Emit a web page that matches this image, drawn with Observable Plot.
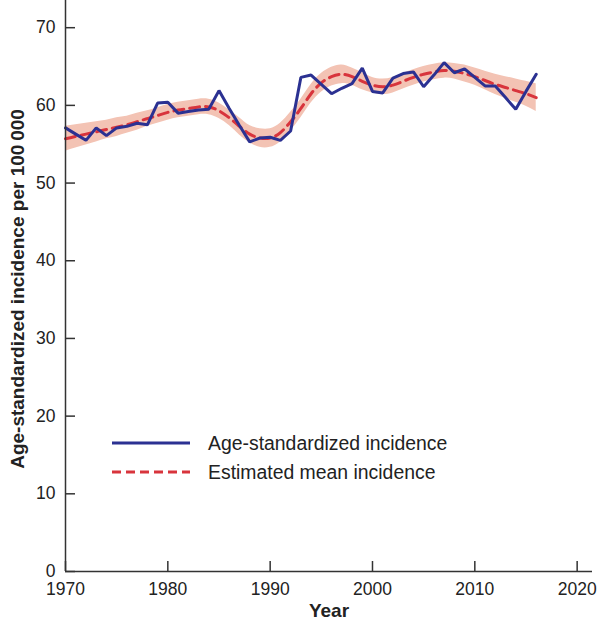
<!DOCTYPE html>
<html>
<head>
<meta charset="utf-8">
<script src="https://cdn.jsdelivr.net/npm/d3@7"></script>
<script src="https://cdn.jsdelivr.net/npm/@observablehq/plot@0.6"></script>
<style>
  html, body { margin: 0; padding: 0; background: #fff; }
  #chart svg { display: block; }
</style>
</head>
<body>
<div id="chart"></div>
<script>
const years = d3.range(1970, 2017);
const observed = [57.1, 56.3, 55.5, 57.1, 56.1, 57.1, 57.3, 57.7, 57.5, 60.3,
  60.4, 59.0, 59.2, 59.4, 59.5, 61.9, 59.6, 57.4, 55.3, 55.8,
  55.9, 55.5, 56.7, 63.6, 63.9, 62.7, 61.5, 62.2, 62.8, 64.8,
  61.8, 61.6, 63.5, 64.1, 64.3, 62.4, 63.9, 65.5, 64.2, 64.7,
  63.6, 62.5, 62.5, 61.0, 59.5, 61.8, 64.0];
const meanEst = [55.7, 56.0, 56.3, 56.6, 56.9, 57.2, 57.5, 57.9, 58.3, 58.7,
  59.1, 59.4, 59.6, 59.8, 59.8, 59.3, 58.4, 57.3, 56.3, 55.8,
  55.8, 56.5, 57.9, 59.6, 61.5, 62.9, 63.7, 64.0, 63.7, 63.1,
  62.6, 62.4, 62.6, 63.1, 63.6, 64.0, 64.3, 64.5, 64.4, 64.1,
  63.7, 63.2, 62.7, 62.3, 61.9, 61.5, 61.0];
const lower = [54.1, 54.5, 54.9, 55.3, 55.7, 56.0, 56.4, 56.8, 57.3, 57.7,
  58.1, 58.4, 58.6, 58.8, 58.8, 58.3, 57.4, 56.2, 55.2, 54.6,
  54.6, 55.3, 56.7, 58.4, 60.3, 61.7, 62.5, 62.8, 62.6, 62.0,
  61.6, 61.4, 61.6, 62.1, 62.6, 63.0, 63.3, 63.5, 63.4, 63.0,
  62.6, 62.0, 61.4, 60.9, 60.4, 59.9, 59.2];
const upper = [57.3, 57.5, 57.7, 57.9, 58.1, 58.4, 58.6, 59.0, 59.3, 59.7,
  60.1, 60.4, 60.6, 60.8, 60.8, 60.3, 59.4, 58.4, 57.4, 57.0,
  57.0, 57.7, 59.1, 60.8, 62.7, 64.1, 64.9, 65.2, 64.8, 64.2,
  63.6, 63.4, 63.6, 64.1, 64.6, 65.0, 65.3, 65.5, 65.4, 65.2,
  64.8, 64.4, 64.0, 63.7, 63.4, 63.1, 62.8];
const xTicks = [1970, 1980, 1990, 2000, 2010, 2020];
const yTicks = [0, 10, 20, 30, 40, 50, 60, 70];
const seriesNames = ["Age-standardized incidence", "Estimated mean incidence"];
const xTitle = "Year";
const yTitle = "Age-standardized incidence per 100\u2009000";

const rows = years.map((year, i) => ({year, observed: observed[i], mean: meanEst[i], lo: lower[i], hi: upper[i]}));

const BLUE = "#2b3192";
const RED = "#d8343c";
const BAND = "#f3c3b4";
const AXIS = "#333333";
const FONT = "'Liberation Sans', Arial, Helvetica, sans-serif";

const chart = Plot.plot({
  width: 598,
  height: 628,
  marginLeft: 65,
  marginRight: 6,
  marginTop: 0,
  marginBottom: 57,
  style: {fontFamily: FONT, fontSize: "17.5px", color: "#222", background: "#fff"},
  x: {domain: [1970, 2021.5]},
  y: {domain: [0, 73.5]},
  marks: [
    Plot.areaY(rows, {x: "year", y1: "lo", y2: "hi", fill: BAND, curve: "natural"}),
    Plot.line(rows, {x: "year", y: "mean", stroke: RED, strokeWidth: 3, strokeDasharray: "10,6", curve: "natural"}),
    Plot.line(rows, {x: "year", y: "observed", stroke: BLUE, strokeWidth: 3, strokeLinejoin: "miter"}),
    Plot.ruleY([0], {stroke: AXIS, strokeWidth: 1.5}),
    Plot.ruleX([1970], {stroke: AXIS, strokeWidth: 1.5}),
    Plot.axisX({ticks: xTicks, tickFormat: d => String(d), tickSize: -10, tickPadding: 21, stroke: AXIS, strokeWidth: 1.5, label: null, fontSize: 17.5, fill: "#222"}),
    Plot.axisY({ticks: yTicks, tickSize: -10, tickPadding: 20, stroke: AXIS, strokeWidth: 1.5, label: null, fontSize: 17.5, fill: "#222"}),
    Plot.text([xTitle], {frameAnchor: "bottom", textAnchor: "middle", dy: 45, fontWeight: "bold", fontSize: 19, fill: "#222"}),
    Plot.text([yTitle], {frameAnchor: "left", textAnchor: "middle", rotate: -90, dx: -48, dy: 3, fontWeight: "bold", fontSize: 19, fill: "#222"})
  ]
});

// Legend drawn inside the plot area
const svg = d3.select(chart);
const lg = svg.append("g").attr("font-family", FONT).attr("font-size", 19.4).attr("fill", "#222").attr("text-anchor", "start");
seriesNames.forEach((name, i) => {
  const y = 443 + i * 29;
  lg.append("line").attr("x1", 112).attr("x2", 190).attr("y1", y).attr("y2", y)
    .attr("stroke", i === 0 ? BLUE : RED).attr("stroke-width", 3)
    .attr("stroke-dasharray", i === 0 ? null : "9,5");
  lg.append("text").attr("x", 208).attr("y", y).attr("dy", "0.35em").text(name);
});

document.getElementById("chart").appendChild(chart);
</script>
</body>
</html>
